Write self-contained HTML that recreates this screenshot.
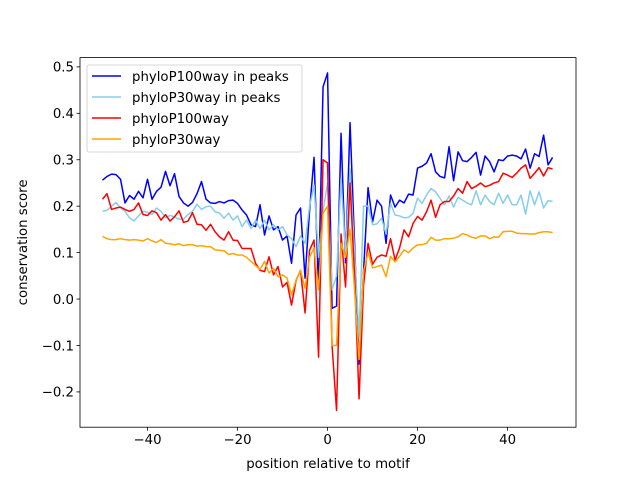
<!DOCTYPE html>
<html><head><meta charset="utf-8"><style>
body{margin:0;background:#fff;}
svg{display:block;font-family:"DejaVu Sans","Liberation Sans",sans-serif;}
</style></head><body>
<svg id="chart" width="640" height="480"></svg>
<script>
const positions = [];
for (let p = -50; p <= 50; p++) positions.push(p);
const peaks100 = [0.256,0.264,0.269,0.268,0.258,0.207,0.223,0.215,0.232,0.218,0.258,0.215,0.232,0.241,0.275,0.244,0.27,0.221,0.207,0.2,0.208,0.227,0.253,0.215,0.207,
0.206,0.21,0.207,0.212,0.213,0.206,0.192,0.181,0.16,0.156,0.203,0.138,0.179,0.149,0.156,0.127,0.136,0.077,0.181,0.196,0.045,0.19,0.305,0.02,0.457,0.487,
-0.02,-0.015,0.357,0.078,0.38,0.12,-0.14,0.06,0.24,0.166,0.213,0.2,0.12,0.224,0.198,0.213,0.207,0.226,0.224,0.282,0.286,0.293,0.313,0.274,0.264,0.261,0.328,0.255,0.317,0.298,0.296,0.305,0.316,0.267,0.308,0.296,0.274,0.3,0.298,0.308,0.31,0.308,0.302,0.323,0.282,0.313,0.307,0.353,0.289,0.305];
const peaks30 = [0.189,0.191,0.2,0.208,0.196,0.189,0.175,0.168,0.179,0.189,0.187,0.182,0.196,0.189,0.175,0.18,0.177,0.172,0.172,0.182,0.189,0.204,0.193,0.199,0.2,
0.188,0.185,0.174,0.185,0.17,0.179,0.156,0.17,0.152,0.17,0.152,0.17,0.149,0.16,0.149,0.156,0.138,0.13,0.113,0.136,0.12,0.2,0.245,0.09,0.19,0.25,
0.02,0.05,0.26,0.1,0.28,0.1,-0.08,0.2,0.2,0.16,0.162,0.174,0.14,0.206,0.181,0.179,0.175,0.176,0.185,0.217,0.206,0.224,0.238,0.231,0.217,0.203,0.222,0.198,0.219,0.213,0.207,0.203,0.233,0.203,0.224,0.21,0.203,0.228,0.206,0.224,0.203,0.203,0.224,0.183,0.233,0.203,0.231,0.196,0.212,0.21];
const all100 = [0.215,0.227,0.193,0.196,0.198,0.193,0.189,0.193,0.207,0.182,0.18,0.19,0.186,0.17,0.182,0.168,0.177,0.19,0.165,0.168,0.186,0.161,0.16,0.148,0.161,
0.145,0.134,0.127,0.145,0.127,0.126,0.109,0.109,0.109,0.077,0.062,0.059,0.091,0.052,0.07,0.026,0.036,-0.013,0.04,0.062,-0.03,0.105,0.127,-0.125,0.3,0.293,
-0.1,-0.24,0.14,0.026,0.25,0.05,-0.215,0.03,0.12,0.075,0.09,0.095,0.092,0.13,0.084,0.11,0.149,0.134,0.163,0.178,0.17,0.188,0.213,0.176,0.203,0.21,0.21,0.222,0.238,0.228,0.253,0.238,0.243,0.25,0.242,0.245,0.25,0.253,0.271,0.267,0.262,0.271,0.282,0.289,0.26,0.271,0.283,0.265,0.283,0.28];
const all30 = [0.135,0.13,0.128,0.128,0.13,0.128,0.127,0.128,0.127,0.125,0.13,0.125,0.122,0.128,0.12,0.119,0.117,0.119,0.115,0.117,0.117,0.114,0.115,0.113,0.113,
0.106,0.105,0.104,0.096,0.098,0.095,0.095,0.09,0.081,0.072,0.064,0.081,0.056,0.066,0.048,0.052,0.045,0.009,0.041,0.062,0.023,0.09,0.11,0.02,0.185,0.2,
-0.1,-0.1,0.12,0.09,0.15,0.02,-0.13,0.06,0.1,0.067,0.07,0.073,0.048,0.092,0.08,0.092,0.106,0.1,0.11,0.117,0.117,0.12,0.133,0.127,0.127,0.13,0.13,0.131,0.134,0.141,0.138,0.133,0.131,0.136,0.136,0.13,0.134,0.133,0.145,0.146,0.146,0.142,0.141,0.141,0.14,0.14,0.143,0.145,0.145,0.143];
const xTicks = [-40,-20,0,20,40];
const yTicks = [-0.2,-0.1,0.0,0.1,0.2,0.3,0.4,0.5];
const seriesNames = ["phyloP100way in peaks","phyloP30way in peaks","phyloP100way","phyloP30way"];
const seriesColors = ["#0000ff","#87ceeb","#ff0000","#ffa500"];

const L=80,R=576,T=57.6,B=427.2;
const X0=-55,X1=55.2,Y0=-0.276,Y1=0.52;
const xs=v=>L+(v-X0)/(X1-X0)*(R-L);
const ys=v=>B-(v-Y0)/(Y1-Y0)*(B-T);
const NS="http://www.w3.org/2000/svg";
const svg=document.getElementById('chart');
function mk(tag,attrs,parent){const e=document.createElementNS(NS,tag);for(const k in attrs)e.setAttribute(k,attrs[k]);(parent||svg).appendChild(e);return e;}

const series=[peaks100,peaks30,all100,all30];
const snames=['series-phylop100way-in-peaks','series-phylop30way-in-peaks','series-phylop100way','series-phylop30way'];
series.forEach((vals,i)=>{
  const d=vals.map((v,j)=>(j?'L':'M')+xs(positions[j]).toFixed(2)+' '+ys(v).toFixed(2)).join(' ');
  const p=mk('path',{d:d,fill:'none',stroke:seriesColors[i],'stroke-width':1.5,'stroke-linejoin':'round'});
  
  
});

const frame=mk('rect',{x:L,y:T,width:R-L,height:B-T,fill:'none',stroke:'#000','stroke-width':0.8});



xTicks.forEach(t=>{
  const x=xs(t);
  const tk=mk('line',{x1:x,x2:x,y1:B,y2:B+3.5,stroke:'#000','stroke-width':0.8});
  
  
  const tx=mk('text',{x:x,y:B+17,'text-anchor':'middle','font-size':'13.3px',fill:'#000'});
  tx.textContent=(t<0?'\u2212'+(-t):String(t));
  
  
});
yTicks.forEach(t=>{
  const y=ys(t);
  const tk=mk('line',{x1:L-3.5,x2:L,y1:y,y2:y,stroke:'#000','stroke-width':0.8});
  
  
  const tx=mk('text',{x:L-6,y:y+4.8,'text-anchor':'end','font-size':'13.3px',fill:'#000'});
  tx.textContent=(t<0?'\u2212'+(-t).toFixed(1):t.toFixed(1));
  
  
});
const xl=mk('text',{x:(L+R)/2,y:468,'text-anchor':'middle','font-size':'13.3px',fill:'#000'});
xl.textContent='position relative to motif';


const yl=mk('text',{x:0,y:0,'text-anchor':'middle','font-size':'13.3px',fill:'#000',transform:'translate(27,'+((T+B)/2)+') rotate(-90)'});
yl.textContent='conservation score';



const lg=mk('g',{});


mk('rect',{x:87,y:65,width:215,height:87,rx:2,fill:'#fff','fill-opacity':0.8,stroke:'#ccc','stroke-width':0.8},lg);
seriesNames.forEach((n,i)=>{
  const y=76+i*21;
  const g=mk('g',{},lg);
  
  
  mk('line',{x1:92,x2:121,y1:y,y2:y,stroke:seriesColors[i],'stroke-width':1.5},g);
  const t=mk('text',{x:132,y:y+4.8,'font-size':'13.3px',fill:'#000'},g);
  t.textContent=n;
});
</script>
</body></html>
